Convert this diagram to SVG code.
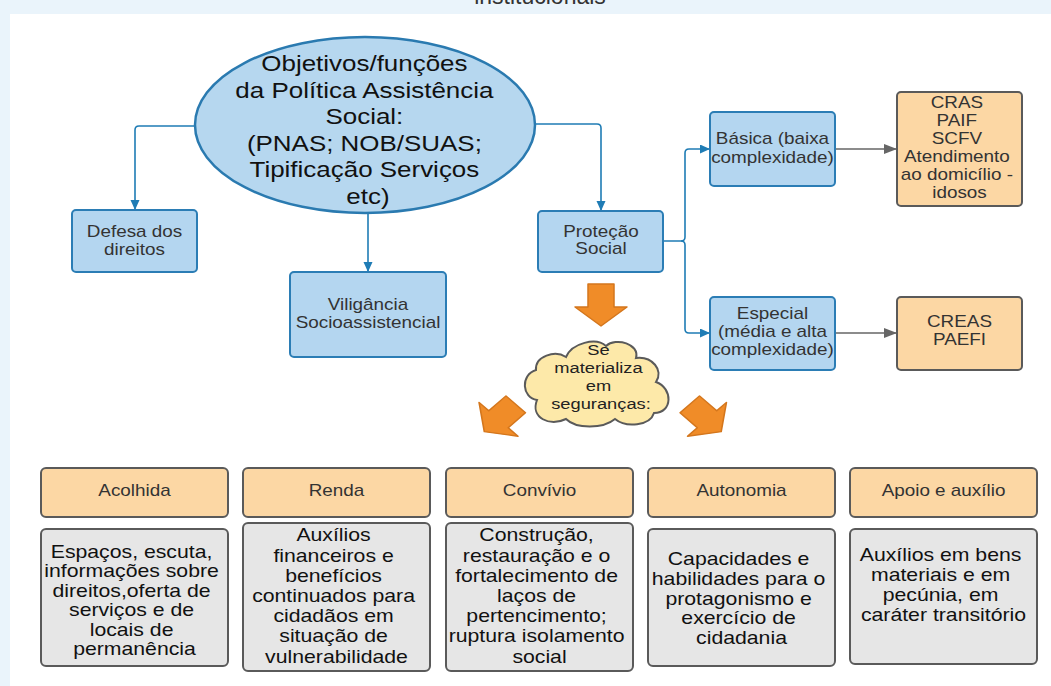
<svg xmlns="http://www.w3.org/2000/svg" xmlns:xlink="http://www.w3.org/1999/xlink" width="1051" height="686" viewBox="0 0 1051 686">
<style>
.tx{font-family:"Liberation Sans",Arial,sans-serif;text-anchor:middle}
.t16{font-size:16px;fill:#333}
.t155{font-size:15.5px;fill:#222}
.t18{font-size:18px;fill:#111}
.t22{font-size:22px;fill:#111}
.blue{fill:#b4d6f0;stroke:#2b7db5;stroke-width:2}
.orange{fill:#fcd7a4;stroke:#5a5a5a;stroke-width:2}
.gray{fill:#e6e6e6;stroke:#5a5a5a;stroke-width:2}
.cb{fill:none;stroke:#1f7cb5;stroke-width:1.6}
.cg{fill:none;stroke:#666;stroke-width:1.6}
.oa{fill:#f08c28;stroke:#d4761c;stroke-width:1.5;stroke-linejoin:round}
</style>
<defs>
<marker id="ab" markerUnits="userSpaceOnUse" markerWidth="12" markerHeight="10" refX="10" refY="4.5" orient="auto"><path d="M0,0 L10,4.5 L0,9 Z" fill="#1f7cb5"/></marker>
<marker id="ag" markerUnits="userSpaceOnUse" markerWidth="14" markerHeight="11" refX="13" refY="5" orient="auto"><path d="M0,0 L13,5 L0,10 Z" fill="#666"/></marker>
<path id="oarrow" d="M-13,-21 L13,-21 L13,2 L26,2 L0,21 L-26,2 L-13,2 Z"/>
</defs>
<rect width="1051" height="686" fill="#eaf4fb"/>
<rect x="10" y="14" width="1041" height="672" fill="#fff"/>
<text class="tx" x="540" y="4" font-size="23" fill="#333">institucionais</text>

<g id="connectors">
<path class="cb" d="M195,126 L139,126 Q135,126 135,130 L135,210" marker-end="url(#ab)"/>
<path class="cb" d="M368,213 L368,272" marker-end="url(#ab)"/>
<path class="cb" d="M535,124 L597,124 Q601,124 601,128 L601,211" marker-end="url(#ab)"/>
<path class="cb" d="M663,241 L681,241 Q685,241 685,237 L685,153 Q685,149 689,149 L710,149" marker-end="url(#ab)"/>
<path class="cb" d="M681,241 Q685,241 685,245 L685,329 Q685,333 689,333 L710,333" marker-end="url(#ab)"/>
<path class="cg" d="M835,149 L897,149" marker-end="url(#ag)"/>
<path class="cg" d="M835,333 L897,333" marker-end="url(#ag)"/>
</g>

<g id="objetivos">
<ellipse cx="365" cy="125" rx="170" ry="88" fill="#b6d7ef" stroke="#2a7ab0" stroke-width="2.5"/>
<g transform="translate(368 0) scale(1.18 1)"><text class="tx t22">
<tspan x="0" y="71.2">Objetivos/funções</tspan>
<tspan x="0" y="97.7">da Política Assistência</tspan>
<tspan x="0" y="124.2">Social:</tspan>
<tspan x="0" y="150.7">(PNAS; NOB/SUAS;</tspan>
<tspan x="0" y="177.2">Tipificação Serviços</tspan>
<tspan x="0" y="203.7">etc)</tspan>
</text></g>
</g>

<g id="defesa">
<rect class="blue" x="72" y="210" width="125" height="62" rx="4"/>
<g transform="translate(134.5 0) scale(1.18 1)"><text class="tx t16"><tspan x="0" y="236.6">Defesa dos</tspan><tspan x="0" y="254.6">direitos</tspan></text></g>
</g>

<g id="vigilancia">
<rect class="blue" x="290" y="272" width="156" height="85" rx="4"/>
<g transform="translate(368 0) scale(1.18 1)"><text class="tx t16"><tspan x="0" y="309.6">Viligância</tspan><tspan x="0" y="327.6">Socioassistencial</tspan></text></g>
</g>

<g id="protecao">
<rect class="blue" x="538" y="211" width="125" height="61" rx="4"/>
<g transform="translate(601 0) scale(1.18 1)"><text class="tx t16"><tspan x="0" y="236.6">Proteção</tspan><tspan x="0" y="254">Social</tspan></text></g>
</g>

<g id="basica">
<rect class="blue" x="710" y="112" width="125" height="74" rx="4"/>
<g transform="translate(772.5 0) scale(1.18 1)"><text class="tx t16"><tspan x="0" y="143.6">Básica (baixa</tspan><tspan x="0" y="162.6">complexidade)</tspan></text></g>
</g>

<g id="especial">
<rect class="blue" x="710" y="297" width="125" height="73" rx="4"/>
<g transform="translate(772.5 0) scale(1.18 1)"><text class="tx t16"><tspan x="0" y="318.6">Especial</tspan><tspan x="0" y="336.6">(média e alta</tspan><tspan x="0" y="354.6">complexidade)</tspan></text></g>
</g>

<g id="cras">
<rect class="orange" x="897" y="92" width="125" height="114" rx="4"/>
<g transform="translate(959.5 0) scale(1.18 1)"><text class="tx t16">
<tspan x="0" y="107.6">CRAS</tspan>
<tspan x="0" y="125.6">PAIF</tspan>
<tspan x="0" y="143.6">SCFV</tspan>
<tspan x="0" y="161.6">Atendimento</tspan>
<tspan x="0" y="179.6">ao domicílio -</tspan>
<tspan x="0" y="197.6">idosos</tspan>
</text></g>
</g>

<g id="creas">
<rect class="orange" x="897" y="297" width="125" height="73" rx="4"/>
<g transform="translate(959.5 0) scale(1.18 1)"><text class="tx t16"><tspan x="0" y="326.6">CREAS</tspan><tspan x="0" y="344.6">PAEFI</tspan></text></g>
</g>

<g id="seta-baixo">
<use xlink:href="#oarrow" href="#oarrow" class="oa" transform="translate(601 305)"/>
</g>

<g id="nuvem">
<path d="M537,400 C522,398 520,375 536,370 C535,356 555,350 566,357 C572,343 596,337 606,346 C616,337 640,344 636,358 C652,356 664,370 656,382 C673,388 673,413 654,413 C650,426 626,428 615,419 C603,429 576,429 566,419 C550,427 530,418 537,400 Z" fill="#fde9a9" stroke="#5a5a5a" stroke-width="2"/>
<g transform="translate(601 0) scale(1.18 1)"><text class="tx t155">
<tspan x="0" y="355.4">Se</tspan>
<tspan x="0" y="373.4">materializa</tspan>
<tspan x="0" y="391.4">em</tspan>
<tspan x="0" y="409.4">seguranças:</tspan>
</text></g>
</g>

<g id="seta-esq">
<use xlink:href="#oarrow" href="#oarrow" class="oa" transform="translate(500 418) scale(1.15 1) rotate(45) scale(0.92)"/>
</g>
<g id="seta-dir">
<use xlink:href="#oarrow" href="#oarrow" class="oa" transform="translate(705.5 418) scale(1.15 1) rotate(-45) scale(0.92)"/>
</g>

<g id="acolhida">
<rect class="orange" x="41" y="468" width="187" height="49" rx="5"/>
<g transform="translate(134.5 0) scale(1.18 1)"><text class="tx t16" x="0" y="496.3">Acolhida</text></g>
<rect class="gray" x="41" y="529" width="187" height="137" rx="5"/>
<g transform="translate(134.5 0) scale(1.18 1)"><text class="tx t18">
<tspan x="0" y="558">Espaços, escuta,</tspan>
<tspan x="0" y="577.4">informações sobre</tspan>
<tspan x="0" y="596.8">direitos,oferta de</tspan>
<tspan x="0" y="616.2">serviços e de</tspan>
<tspan x="0" y="635.6">locais de</tspan>
<tspan x="0" y="655">permanência</tspan>
</text></g>
</g>

<g id="renda">
<rect class="orange" x="243" y="468" width="187" height="49" rx="5"/>
<g transform="translate(336.5 0) scale(1.18 1)"><text class="tx t16" x="0" y="496.3">Renda</text></g>
<rect class="gray" x="243" y="523" width="187" height="148" rx="5"/>
<g transform="translate(336.5 0) scale(1.18 1)"><text class="tx t18">
<tspan x="0" y="541.5">Auxílios</tspan>
<tspan x="0" y="561.7">financeiros e</tspan>
<tspan x="0" y="581.9">benefícios</tspan>
<tspan x="0" y="602.1">continuados para</tspan>
<tspan x="0" y="622.3">cidadãos em</tspan>
<tspan x="0" y="642.5">situação de</tspan>
<tspan x="0" y="662.7">vulnerabilidade</tspan>
</text></g>
</g>

<g id="convivio">
<rect class="orange" x="446" y="468" width="187" height="49" rx="5"/>
<g transform="translate(539.5 0) scale(1.18 1)"><text class="tx t16" x="0" y="496.3">Convívio</text></g>
<rect class="gray" x="446" y="523" width="187" height="148" rx="5"/>
<g transform="translate(539.5 0) scale(1.18 1)"><text class="tx t18">
<tspan x="0" y="541.5">Construção,</tspan>
<tspan x="0" y="561.7">restauração e o</tspan>
<tspan x="0" y="581.9">fortalecimento de</tspan>
<tspan x="0" y="602.1">laços de</tspan>
<tspan x="0" y="622.3">pertencimento;</tspan>
<tspan x="0" y="642.5">ruptura isolamento</tspan>
<tspan x="0" y="662.7">social</tspan>
</text></g>
</g>

<g id="autonomia">
<rect class="orange" x="648" y="468" width="187" height="49" rx="5"/>
<g transform="translate(741.5 0) scale(1.18 1)"><text class="tx t16" x="0" y="496.3">Autonomia</text></g>
<rect class="gray" x="648" y="529" width="187" height="137" rx="5"/>
<g transform="translate(741.5 0) scale(1.18 1)"><text class="tx t18">
<tspan x="0" y="564.8">Capacidades e</tspan>
<tspan x="0" y="584.7">habilidades para o</tspan>
<tspan x="0" y="604.6">protagonismo e</tspan>
<tspan x="0" y="624.5">exercício de</tspan>
<tspan x="0" y="644.4">cidadania</tspan>
</text></g>
</g>

<g id="apoio">
<rect class="orange" x="850" y="468" width="187" height="49" rx="5"/>
<g transform="translate(943.5 0) scale(1.18 1)"><text class="tx t16" x="0" y="496.3">Apoio e auxílio</text></g>
<rect class="gray" x="850" y="529" width="187" height="135" rx="5"/>
<g transform="translate(943.5 0) scale(1.18 1)"><text class="tx t18">
<tspan x="0" y="561.5">Auxílios em bens</tspan>
<tspan x="0" y="581.5">materiais e em</tspan>
<tspan x="0" y="601.5">pecúnia, em</tspan>
<tspan x="0" y="621.5">caráter transitório</tspan>
</text></g>
</g>
</svg>
